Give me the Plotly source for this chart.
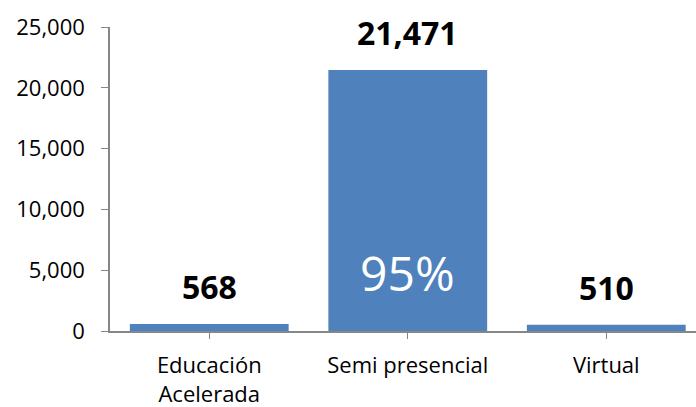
import plotly.graph_objects as go

categories = ["Educación<br>Acelerada", "Semi presencial", "Virtual"]
values = [568, 21471, 510]
value_labels = ["568", "21,471", "510"]
share_label = "95%"
y_ticks = [0, 5000, 10000, 15000, 20000, 25000]
y_tick_text = ["0", "5,000", "10,000", "15,000", "20,000", "25,000"]

FONT = "Open Sans"
BAR = "#4F81BD"
AXIS = "#868686"

fig = go.Figure(go.Bar(
    x=[0, 1, 2], y=values, marker_color=BAR, width=0.8,
    marker_line_width=0, hoverinfo="skip",
))

for i, (v, t) in enumerate(zip(values, value_labels)):
    fig.add_annotation(x=i, y=v, text="<b>%s</b>" % t, showarrow=False,
                       yanchor="bottom", yshift=14,
                       font=dict(family=FONT, size=32, color="#000000"))

fig.add_annotation(x=1, y=4850, text=share_label, showarrow=False,
                   yanchor="middle", font=dict(family=FONT, size=48, color="#FFFFFF"))

fig.update_layout(
    width=696, height=407,
    margin=dict(l=110, r=0, t=27, b=76),
    paper_bgcolor="white", plot_bgcolor="white",
    showlegend=False,
    font=dict(family=FONT, size=22, color="#000000"),
    xaxis=dict(
        range=[-0.5, 2.452], tickvals=[0, 1, 2], ticktext=categories,
        showline=True, linecolor=AXIS, linewidth=1.5,
        ticks="outside", tickson="boundaries", ticklen=6, tickcolor=AXIS,
        showgrid=False, zeroline=False, fixedrange=True,
        ticklabelstandoff=8,
        tickfont=dict(family=FONT, size=22, color="#000000"),
    ),
    yaxis=dict(
        range=[0, 25000], tickvals=y_ticks, ticktext=y_tick_text,
        showline=True, linecolor=AXIS, linewidth=1.5,
        ticks="outside", ticklen=7, tickcolor=AXIS,
        showgrid=False, zeroline=False, fixedrange=True,
        ticklabelstandoff=12,
        tickfont=dict(family=FONT, size=22, color="#000000"),
    ),
)

fig.write_html("out.html", config={"displayModeBar": False})
